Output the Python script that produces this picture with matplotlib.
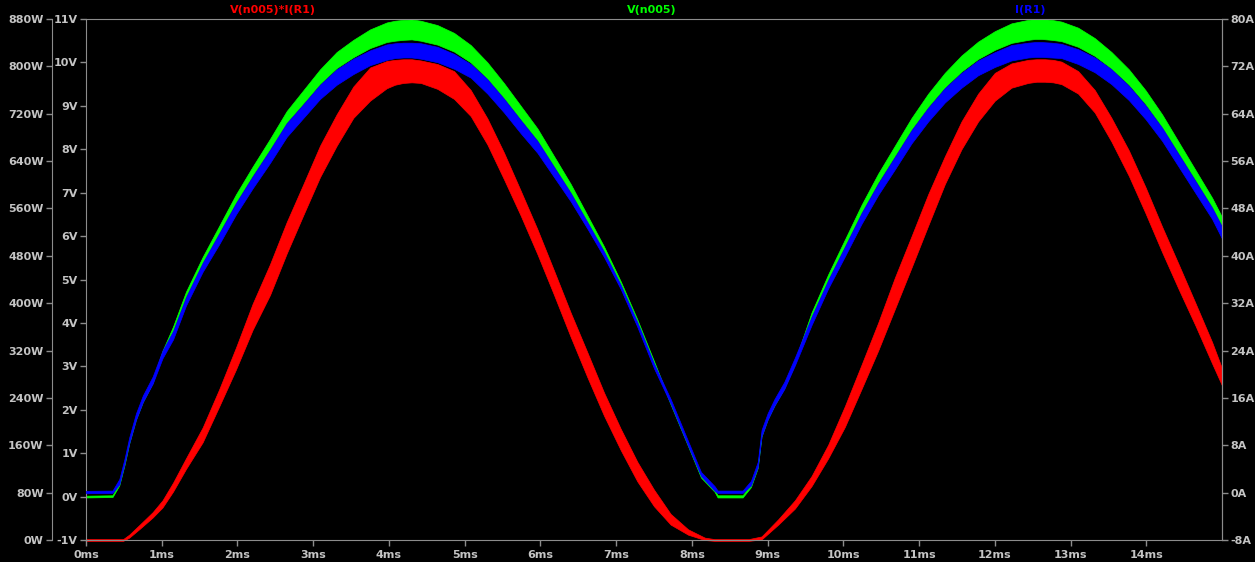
import numpy as np
import matplotlib.pyplot as plt

plt.rcParams['font.family'] = 'DejaVu Sans'
plt.rcParams['font.weight'] = 'bold'

# time grid for V(n005) and I(R1) envelopes (ms)
t_vi = [0.00, 0.35, 0.44, 0.51, 0.57, 0.66, 0.75, 0.88, 1.01, 1.15, 1.32, 1.54, 1.76, 1.98,
        2.20, 2.43, 2.65, 2.87, 3.09, 3.31, 3.53, 3.75, 3.97, 4.08, 4.19, 4.30, 4.42, 4.64,
        4.86, 5.08, 5.30, 5.52, 5.74, 5.96, 6.18, 6.40, 6.62, 6.84, 7.06, 7.28, 7.50, 7.72,
        7.95, 8.12, 8.30, 8.34, 8.67, 8.78, 8.87, 8.92, 9.00, 9.09, 9.22, 9.36, 9.58, 9.80,
        10.02, 10.24, 10.46, 10.68, 10.90, 11.12, 11.34, 11.56, 11.78, 12.00, 12.22, 12.44,
        12.53, 12.62, 12.75, 12.88, 13.10, 13.32, 13.54, 13.77, 13.99, 14.21, 14.43, 14.65,
        14.87, 15.00]

# V(n005) upper / lower envelope (V)
v_hi = [0.02, 0.03, 0.32, 0.80, 1.28, 1.84, 2.24, 2.68, 3.36, 3.92, 4.72, 5.52, 6.24, 6.96,
        7.60, 8.24, 8.88, 9.36, 9.84, 10.24, 10.52, 10.76, 10.92, 10.96, 10.98, 10.99, 10.96, 10.86,
        10.68, 10.40, 10.00, 9.52, 9.00, 8.48, 7.84, 7.20, 6.48, 5.76, 4.96, 4.08, 3.12, 2.16,
        1.20, 0.48, 0.16, 0.03, 0.03, 0.28, 0.72, 1.45, 1.84, 2.16, 2.56, 3.12, 4.24, 5.12,
        5.92, 6.72, 7.44, 8.08, 8.72, 9.28, 9.76, 10.16, 10.48, 10.72, 10.90, 10.98,
        11.00, 11.00, 10.98, 10.94, 10.80, 10.56, 10.24, 9.84, 9.36, 8.80, 8.16, 7.52,
        6.88, 6.44]
v_lo = [-0.02, -0.01, 0.26, 0.74, 1.22, 1.78, 2.18, 2.62, 3.30, 3.84, 4.62, 5.40, 6.09, 6.78,
        7.40, 8.01, 8.62, 9.06, 9.51, 9.87, 10.12, 10.33, 10.47, 10.50, 10.52, 10.53, 10.50, 10.41,
        10.25, 10.00, 9.63, 9.18, 8.69, 8.21, 7.61, 7.01, 6.33, 5.65, 4.88, 4.02, 3.08, 2.12,
        1.16, 0.44, 0.11, -0.02, -0.02, 0.22, 0.66, 1.39, 1.78, 2.10, 2.50, 3.06, 4.16, 5.01,
        5.78, 6.55, 7.24, 7.85, 8.46, 8.98, 9.43, 9.79, 10.08, 10.29, 10.45, 10.52,
        10.54, 10.54, 10.52, 10.49, 10.36, 10.15, 9.86, 9.49, 9.04, 8.51, 7.90, 7.29,
        6.67, 6.24]

# I(R1) upper / lower envelope (A)
i_hi = [0.30, 0.35, 2.3, 5.8, 9.3, 13.4, 16.4, 19.6, 24.0, 27.3, 33.0, 38.8, 43.8, 48.9,
        53.4, 57.9, 62.4, 65.6, 68.9, 71.5, 73.3, 74.7, 75.7, 75.9, 76.0, 76.0, 75.9, 75.3,
        74.1, 72.4, 69.8, 66.5, 62.9, 59.4, 55.0, 50.6, 45.7, 40.7, 35.1, 28.8, 21.8, 15.8,
        8.7, 3.5, 1.1, 0.35, 0.35, 2.0, 5.2, 10.6, 13.4, 15.8, 18.7, 22.8, 29.7, 35.9,
        41.5, 47.2, 52.2, 56.7, 61.2, 65.0, 68.3, 70.9, 73.0, 74.4, 75.6, 76.0,
        76.1, 76.1, 76.0, 75.8, 74.9, 73.5, 71.5, 68.7, 65.4, 61.6, 57.1, 52.6,
        48.1, 44.9]
i_lo = [-0.10, -0.05, 1.4, 4.9, 8.3, 12.3, 15.3, 18.4, 22.7, 25.9, 31.6, 37.3, 42.0, 47.0,
        51.4, 55.7, 60.1, 63.3, 66.5, 68.9, 70.7, 72.2, 73.1, 73.4, 73.5, 73.5, 73.3, 72.7,
        71.6, 70.1, 67.4, 64.2, 60.7, 57.4, 53.3, 49.2, 44.6, 39.8, 34.4, 28.0, 21.0, 15.0,
        7.9, 2.8, 0.3, -0.05, -0.05, 1.2, 4.3, 9.5, 12.3, 14.7, 17.5, 21.5, 28.3, 34.5,
        39.9, 45.4, 50.3, 54.6, 59.0, 62.7, 65.9, 68.4, 70.5, 71.9, 73.0, 73.5,
        73.6, 73.6, 73.5, 73.4, 72.4, 71.0, 69.0, 66.3, 63.1, 59.4, 55.0, 50.6,
        46.2, 42.9]

# V(n005)*I(R1) envelope (W)
t_p = [0.00, 0.49, 0.57, 0.71, 0.88, 1.01, 1.15, 1.32, 1.54, 1.76, 1.98, 2.20, 2.43, 2.65,
       2.87, 3.09, 3.31, 3.53, 3.75, 3.97, 4.08, 4.19, 4.30, 4.42, 4.64, 4.86, 5.08, 5.30,
       5.52, 5.74, 5.96, 6.18, 6.40, 6.62, 6.84, 7.06, 7.28, 7.50, 7.72, 7.95, 8.17, 8.30,
       8.75, 8.92, 9.14, 9.36, 9.58, 9.80, 10.02, 10.24, 10.46, 10.68, 10.90, 11.12, 11.34,
       11.56, 11.78, 12.00, 12.22, 12.44, 12.55, 12.66, 12.77, 12.88, 13.10, 13.32, 13.54,
       13.77, 13.99, 14.21, 14.43, 14.65, 14.87, 15.00]
p_hi = [1.5, 1.5, 9, 26, 47, 67, 97, 138, 190, 255, 325, 399, 466, 537,
        601, 666, 719, 766, 798, 809, 811, 812, 812, 810, 804, 792, 760, 712,
        654, 590, 525, 455, 384, 317, 249, 188, 132, 85, 44, 18, 4, 1.5,
        1.5, 6, 35, 67, 108, 161, 226, 296, 367, 443, 513, 584, 648,
        707, 754, 789, 805, 811, 812, 812, 811, 808, 792, 760, 713,
        658, 596, 529, 465, 400, 334, 290]
p_lo = [-1.5, -1.5, 4, 19, 38, 55, 82, 120, 165, 226, 288, 355, 414, 484,
        549, 613, 666, 713, 742, 763, 769, 772, 773, 772, 762, 745, 716, 668,
        609, 548, 483, 414, 343, 275, 210, 152, 99, 57, 26, 9, 0, -1.5,
        -1.5, 1, 26, 53, 91, 138, 191, 255, 320, 390, 460, 531, 601,
        660, 707, 742, 764, 772, 774, 774, 773, 770, 754, 722, 673,
        615, 552, 486, 423, 362, 298, 261]

v_ticks = list(range(-1, 12))
w_ticks = list(range(0, 881, 80))
a_ticks = list(range(-8, 81, 8))
ms_ticks = list(range(0, 15))

axis_gray = '#8c8c8c'
text_gray = '#c4c4c4'

W, H = 1255, 562
fig = plt.figure(figsize=(W / 100, H / 100), dpi=100, facecolor='black')
ax = fig.add_axes([86 / W, 22 / H, 1136 / W, 521 / H])
ax_w = ax.twinx()
ax_a = ax.twinx()

# stacking: power lowest, voltage, current on top
ax_w.set_zorder(1)
ax.set_zorder(2)
ax_a.set_zorder(3)
for a in (ax, ax_w, ax_a):
    a.patch.set_visible(False)
    for s in a.spines.values():
        s.set_visible(False)
        s.set_color(axis_gray)

for s in ('left', 'top', 'bottom', 'right'):
    ax.spines[s].set_visible(True)

ax_w.yaxis.set_ticks_position('left')
ax_w.yaxis.set_label_position('left')
ax_w.spines['left'].set_visible(True)
ax_w.spines['left'].set_position(('outward', 34 * 72 / 100))
ax_a.spines['right'].set_visible(True)

ax_w.fill_between(t_p, p_lo, p_hi, color='#ff0000', lw=0.5, clip_on=False)
ax.fill_between(t_vi, v_lo, v_hi, color='#00ff00', lw=0.5, clip_on=False)
ax_a.fill_between(t_vi, i_lo, i_hi, color='#0000ff', lw=0.5, clip_on=False)

ax.set_xlim(0, 15)
ax.set_ylim(-1, 11)
ax_w.set_ylim(0, 880)
ax_a.set_ylim(-8, 80)

ax.set_xticks(ms_ticks)
ax.set_xticklabels([f'{m}ms' for m in ms_ticks])
ax.set_yticks(v_ticks)
ax.set_yticklabels([f'{v}V' for v in v_ticks])
ax_w.set_yticks(w_ticks)
ax_w.set_yticklabels([f'{w}W' for w in w_ticks])
ax_a.set_yticks(a_ticks)
ax_a.set_yticklabels([f'{a}A' for a in a_ticks])

for a in (ax, ax_w, ax_a):
    a.tick_params(axis='both', direction='out', length=4.5, width=1, color=axis_gray,
                  labelcolor=text_gray, labelsize=8, pad=1.5)
ax.tick_params(axis='x', pad=3)

fig.text(273 / W, 1 - 10 / H, 'V(n005)*I(R1)', color='#ff0000', fontsize=8,
         ha='center', va='center')
fig.text(652 / W, 1 - 10 / H, 'V(n005)', color='#00ff00', fontsize=8,
         ha='center', va='center')
fig.text(1030 / W, 1 - 10 / H, 'I(R1)', color='#0000ff', fontsize=8,
         ha='center', va='center')

fig.savefig('out.png', dpi=100, facecolor='black')
